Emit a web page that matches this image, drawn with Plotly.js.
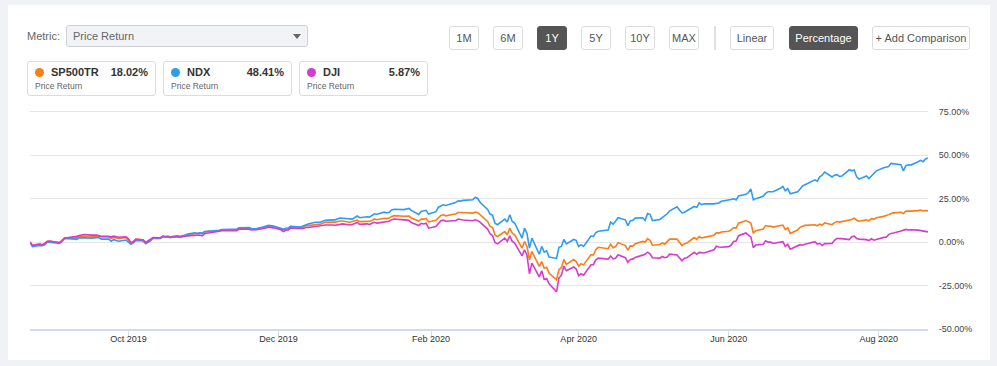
<!DOCTYPE html>
<html>
<head>
<meta charset="utf-8">
<script src="https://cdn.plot.ly/plotly-3.0.1.min.js"></script>
<style>
  html, body { margin: 0; padding: 0; width: 997px; height: 366px; background: #f1f2f6; overflow: hidden; font-family: "Liberation Sans", Arial, sans-serif; }
  #card { position: absolute; left: 8px; top: 5px; width: 982px; height: 355px; background: #ffffff; }
  #chart { position: absolute; left: 0; top: 0; width: 997px; height: 366px; }
  .lbl { position: absolute; font-size: 11px; color: #666; }
  .dd { position: absolute; left: 66px; top: 25px; width: 242px; height: 22px; box-sizing: border-box; background: #f2f3f6; border: 1px solid #cfd1d6; border-radius: 3px; }
  .dd span { position: absolute; left: 6px; top: 4px; font-size: 11px; color: #666; }
  .caret { position: absolute; left: 226px; top: 8px; width: 0; height: 0; border-left: 4px solid transparent; border-right: 4px solid transparent; border-top: 5px solid #666; }
  .btn { position: absolute; top: 26px; height: 24px; box-sizing: border-box; border: 1px solid #dcdcdc; border-radius: 3px; background: #fff; color: #555; font-size: 11px; line-height: 22px; text-align: center; }
  .btn.on { background: #555; border-color: #555; color: #fff; }
  .sep { position: absolute; left: 714px; top: 26px; width: 2px; height: 24px; background: #e0e0e0; }
  .card { position: absolute; top: 61px; width: 129px; height: 35px; box-sizing: border-box; border: 1px solid #dcdcdc; border-radius: 3px; background: #fff; }
  .dot { position: absolute; left: 7px; top: 6px; width: 9px; height: 9px; border-radius: 50%; }
  .nm { position: absolute; left: 23px; top: 4px; font-size: 11px; font-weight: bold; color: #333; }
  .val { position: absolute; right: 7px; top: 4px; font-size: 11px; font-weight: bold; color: #333; }
  .sub { position: absolute; left: 7px; top: 19px; font-size: 8.5px; color: #666; }
</style>
</head>
<body>
<div id="card"></div>
<div id="chart"></div>
<div id="ui"></div>
<script>
// ---------- DATA ----------
var seriesNames = ["SP500TR", "NDX", "DJI"];
var legendValues = ["18.02%", "48.41%", "5.87%"];
var metricLabel = "Price Return";
var rangeButtons = ["1M", "6M", "1Y", "5Y", "10Y", "MAX"];
var scaleButtons = ["Linear", "Percentage"];
var yTickValues = [-50, -25, 0, 25, 50, 75];
var yTickLabels = ["-50.00%", "-25.00%", "0.00%", "25.00%", "50.00%", "75.00%"];

var dates = [
"2019-08-22","2019-08-23","2019-08-26","2019-08-27","2019-08-28","2019-08-29","2019-08-30",
"2019-09-03","2019-09-04","2019-09-05","2019-09-06","2019-09-09","2019-09-10","2019-09-11","2019-09-12","2019-09-13",
"2019-09-16","2019-09-17","2019-09-18","2019-09-19","2019-09-20","2019-09-23","2019-09-24","2019-09-25","2019-09-26","2019-09-27","2019-09-30",
"2019-10-01","2019-10-02","2019-10-03","2019-10-04","2019-10-07","2019-10-08","2019-10-09","2019-10-10","2019-10-11",
"2019-10-14","2019-10-15","2019-10-16","2019-10-17","2019-10-18","2019-10-21","2019-10-22","2019-10-23","2019-10-24","2019-10-25",
"2019-10-28","2019-10-29","2019-10-30","2019-10-31","2019-11-01","2019-11-04","2019-11-05","2019-11-06","2019-11-07","2019-11-08",
"2019-11-11","2019-11-12","2019-11-13","2019-11-14","2019-11-15","2019-11-18","2019-11-19","2019-11-20","2019-11-21","2019-11-22",
"2019-11-25","2019-11-26","2019-11-27","2019-11-29","2019-12-02","2019-12-03","2019-12-04","2019-12-05","2019-12-06",
"2019-12-09","2019-12-10","2019-12-11","2019-12-12","2019-12-13","2019-12-16","2019-12-17","2019-12-18","2019-12-19","2019-12-20",
"2019-12-23","2019-12-24","2019-12-26","2019-12-27","2019-12-30","2019-12-31","2020-01-02","2020-01-03",
"2020-01-06","2020-01-07","2020-01-08","2020-01-09","2020-01-10","2020-01-13","2020-01-14","2020-01-15","2020-01-16","2020-01-17",
"2020-01-21","2020-01-22","2020-01-23","2020-01-24","2020-01-27","2020-01-28","2020-01-29","2020-01-30","2020-01-31",
"2020-02-03","2020-02-04","2020-02-05","2020-02-06","2020-02-07","2020-02-10","2020-02-11","2020-02-12","2020-02-13","2020-02-14",
"2020-02-18","2020-02-19","2020-02-20","2020-02-21","2020-02-24","2020-02-25","2020-02-26","2020-02-27","2020-02-28",
"2020-03-02","2020-03-03","2020-03-04","2020-03-05","2020-03-06","2020-03-09","2020-03-10","2020-03-11","2020-03-12","2020-03-13",
"2020-03-16","2020-03-17","2020-03-18","2020-03-19","2020-03-20","2020-03-23","2020-03-24","2020-03-25","2020-03-26","2020-03-27",
"2020-03-30","2020-03-31","2020-04-01","2020-04-02","2020-04-03","2020-04-06","2020-04-07","2020-04-08","2020-04-09",
"2020-04-13","2020-04-14","2020-04-15","2020-04-16","2020-04-17","2020-04-20","2020-04-21","2020-04-22","2020-04-23","2020-04-24",
"2020-04-27","2020-04-28","2020-04-29","2020-04-30","2020-05-01","2020-05-04","2020-05-05","2020-05-06","2020-05-07","2020-05-08",
"2020-05-11","2020-05-12","2020-05-13","2020-05-14","2020-05-15","2020-05-18","2020-05-19","2020-05-20","2020-05-21","2020-05-22",
"2020-05-26","2020-05-27","2020-05-28","2020-05-29","2020-06-01","2020-06-02","2020-06-03","2020-06-04","2020-06-05",
"2020-06-08","2020-06-09","2020-06-10","2020-06-11","2020-06-12","2020-06-15","2020-06-16","2020-06-17","2020-06-18","2020-06-19",
"2020-06-22","2020-06-23","2020-06-24","2020-06-25","2020-06-26","2020-06-29","2020-06-30","2020-07-01","2020-07-02",
"2020-07-06","2020-07-07","2020-07-08","2020-07-09","2020-07-10","2020-07-13","2020-07-14","2020-07-15","2020-07-16","2020-07-17",
"2020-07-20","2020-07-21","2020-07-22","2020-07-23","2020-07-24","2020-07-27","2020-07-28","2020-07-29","2020-07-30","2020-07-31",
"2020-08-03","2020-08-04","2020-08-05","2020-08-06","2020-08-07","2020-08-10","2020-08-11","2020-08-12","2020-08-13","2020-08-14",
"2020-08-17","2020-08-18","2020-08-19","2020-08-20","2020-08-21"
];

var sp500tr = [
0,-2.0,-1.2,-1.5,-0.9,0.4,0.5,
-0.2,0.9,2.2,2.3,2.3,2.4,3.2,3.5,3.4,
3.1,3.3,3.4,3.4,2.9,2.9,2.1,2.7,2.5,2.0,2.6,
1.3,-0.5,0.3,1.7,1.3,-0.3,0.6,1.3,2.5,
2.4,3.4,3.2,3.5,3.1,3.8,3.4,3.7,3.9,4.3,
4.9,4.8,5.2,4.9,5.9,6.3,6.2,6.3,6.7,7.0,
6.8,7.0,7.1,7.2,8.0,8.1,8.0,7.6,7.4,7.6,
8.4,8.7,9.2,8.8,7.8,7.0,7.7,7.9,8.9,
8.5,8.3,8.6,9.5,9.5,10.3,10.3,10.3,10.8,11.4,
11.5,11.5,12.1,12.1,11.4,11.7,12.7,11.8,
12.2,11.9,12.5,13.3,12.9,13.7,13.5,13.8,14.8,15.2,
14.9,15.0,15.0,13.9,12.1,13.3,13.2,13.6,11.6,
12.5,14.2,15.3,15.7,15.1,16.0,16.2,17.0,16.8,17.0,
16.7,17.3,16.9,15.7,11.9,9.0,8.5,4.2,3.2,
6.1,4.2,8.0,5.2,4.2,-3.5,0.4,-2.5,-10.2,-5.4,
-14.0,-11.2,-15.0,-14.5,-18.0,-21.7,-15.9,-14.6,-10.0,-12.8,
-10.0,-11.2,-13.8,-12.4,-13.1,-7.3,-7.4,-4.2,-3.0,
-3.8,-1.2,-3.2,-2.6,-0.3,-2.0,-4.6,-2.2,-2.3,-1.0,
0.4,-0.1,2.0,1.0,-1.8,-1.4,-0.5,-1.2,0.0,1.7,
1.7,-0.3,-2.0,-0.9,-0.5,2.6,1.5,3.2,2.4,2.7,
3.9,5.4,5.2,5.8,6.2,7.0,8.4,8.1,10.9,
12.4,11.5,11.0,5.3,6.6,7.5,9.5,9.1,9.2,8.6,
9.3,9.8,7.2,8.3,5.0,6.9,8.5,9.0,9.6,
10.0,9.4,10.3,9.8,11.0,10.0,11.2,11.8,11.5,11.8,
12.8,13.0,13.8,12.6,12.0,12.8,12.2,13.5,13.2,14.0,
14.8,15.2,15.8,16.5,16.8,17.2,16.4,17.8,17.7,17.8,
18.1,18.4,17.9,18.2,18.02
];

var ndx = [
0,-2.6,-1.9,-2.0,-1.6,-0.1,0.0,
-0.8,0.4,2.0,2.1,1.7,1.6,2.4,2.6,2.4,
2.3,2.6,2.6,2.6,1.7,1.7,0.5,1.4,1.1,0.5,1.2,
0.1,-1.3,-0.5,0.9,0.6,-1.0,-0.1,0.7,2.2,
2.1,3.2,2.9,3.2,2.5,3.4,2.8,3.1,3.9,4.6,
5.4,4.9,5.3,5.2,6.1,6.5,6.6,6.4,6.8,7.2,
7.0,7.3,7.3,7.4,8.2,8.3,8.3,7.8,7.6,7.7,
8.8,9.0,9.6,9.2,8.0,7.4,8.0,8.1,9.1,
8.7,8.7,9.2,10.0,10.4,11.4,11.4,11.4,12.0,12.5,
12.8,12.8,13.9,13.7,13.0,13.2,15.0,14.0,
14.6,14.4,15.3,16.3,16.0,17.2,16.8,17.1,18.5,18.9,
18.7,19.0,19.4,18.2,15.9,17.6,17.8,18.3,16.1,
17.5,20.1,20.6,21.5,21.1,22.4,22.7,23.8,23.6,24.0,
24.4,25.8,25.1,22.8,18.8,16.1,15.5,10.9,10.0,
13.2,11.5,15.7,11.9,11.0,2.3,8.0,5.0,-3.5,2.3,
-7.0,-2.5,-5.8,-5.0,-8.6,-9.4,-3.0,-2.5,1.5,-1.0,
1.5,1.0,-2.5,-1.5,-2.5,3.5,3.3,5.5,6.2,
7.0,11.5,10.3,12.0,14.0,12.8,9.4,12.2,12.5,13.8,
14.0,12.4,16.5,16.0,12.4,13.0,14.0,15.0,16.3,18.0,
20.3,18.5,16.8,17.2,18.0,20.5,20.0,22.5,21.5,22.0,
22.0,22.3,22.5,23.5,24.0,24.5,25.0,24.2,26.5,
27.5,28.5,30.5,24.3,25.0,26.3,28.0,29.0,29.2,29.0,
31.0,32.0,29.5,30.8,27.8,29.0,30.5,32.3,33.0,
35.8,35.0,37.5,38.5,40.3,37.5,38.5,38.8,37.8,38.0,
41.6,41.0,41.5,37.5,36.2,38.0,36.5,38.0,39.5,41.0,
42.8,43.0,43.5,45.3,45.0,44.5,41.0,44.0,44.5,44.3,
46.2,47.0,46.2,47.8,48.41
];

var dji = [
0,-1.9,-1.1,-1.6,-0.8,0.3,0.6,
-0.4,0.9,2.3,2.5,2.9,3.3,3.8,4.3,4.4,
4.0,4.1,4.1,3.8,3.4,3.4,2.9,3.4,3.2,2.8,3.1,
1.9,-0.3,0.1,1.6,1.2,-0.2,0.8,1.4,2.6,
2.5,3.3,3.0,3.0,2.8,3.2,2.9,3.3,3.2,3.6,
3.9,3.9,4.1,3.6,4.9,5.5,5.8,5.8,6.5,6.5,
6.5,6.5,6.7,6.6,7.5,7.5,7.4,7.0,6.9,7.1,
7.8,8.2,8.6,8.2,7.1,6.1,6.9,7.0,8.2,
7.8,7.6,7.8,8.4,8.4,9.0,9.2,9.0,9.5,9.8,
9.8,9.7,10.2,10.5,9.8,10.1,11.3,10.2,
10.5,10.1,10.8,11.4,10.9,11.4,11.6,12.0,12.9,13.3,
12.8,12.6,12.5,11.3,9.5,10.8,10.4,10.9,8.0,
8.9,10.5,12.3,12.6,12.0,12.3,12.3,13.3,12.8,12.7,
12.3,12.8,12.3,11.3,7.5,4.8,3.8,-0.2,-1.0,
2.3,0.4,3.6,0.4,-0.6,-7.9,-4.4,-7.5,-18.2,-12.1,
-20.0,-16.5,-21.5,-21.0,-24.0,-28.6,-20.7,-19.0,-13.9,-16.5,
-14.3,-15.5,-19.3,-18.2,-19.0,-13.0,-13.0,-10.2,-9.2,
-9.8,-8.0,-9.7,-9.3,-7.3,-9.0,-11.6,-10.0,-9.8,-8.8,
-7.5,-7.0,-5.8,-6.8,-9.0,-9.2,-8.3,-9.0,-8.6,-6.9,
-7.4,-9.1,-10.8,-9.3,-9.0,-5.9,-7.0,-5.9,-6.3,-6.3,
-4.4,-2.4,-2.8,-3.0,-2.6,-1.7,0.3,0.6,3.7,
5.3,4.0,3.0,-3.2,-1.7,-1.3,0.7,0.0,0.0,-0.8,
-0.2,0.2,-2.4,-1.3,-4.1,-2.3,-1.5,-1.8,-1.3,
0.2,-1.2,-0.7,-2.0,-0.9,-0.8,1.0,2.2,2.0,2.0,
1.4,3.1,3.4,2.1,1.7,1.4,0.8,1.9,1.1,1.6,
2.7,2.8,4.3,5.0,5.2,6.4,6.8,7.3,7.0,7.1,
6.9,6.7,6.4,6.2,5.87
];

var seriesColors = ["#fb7d17", "#2e9bf7", "#d43bce"];

// ---------- CHART ----------
var seriesData = [sp500tr, ndx, dji];
var traces = seriesData.map(function (vals, i) {
  return {
    type: "scatter", mode: "lines", name: seriesNames[i],
    x: dates, y: vals,
    line: { color: seriesColors[i], width: 1.6 },
    hoverinfo: "skip"
  };
});

var layout = {
  width: 997, height: 366,
  margin: { l: 30, r: 69, t: 110.3, b: 37, pad: 0 },
  paper_bgcolor: "rgba(0,0,0,0)",
  plot_bgcolor: "rgba(0,0,0,0)",
  showlegend: false,
  font: { family: "Liberation Sans, Arial, sans-serif", size: 9, color: "#333" },
  xaxis: {
    type: "date",
    range: ["2019-08-22", "2020-08-21"],
    tick0: "2019-10-01", dtick: "M2", tickformat: "%b %Y",
    showgrid: false, zeroline: false,
    showline: true, linecolor: "#d5dbe5", linewidth: 2,
    ticks: "outside", ticklen: 6, tickcolor: "#d5dbe5", tickwidth: 1,
    ticklabelstandoff: -6,
    tickfont: { size: 9, color: "#333" }
  },
  yaxis: {
    side: "right",
    range: [-50, 76], tickmode: "array",
    tickvals: yTickValues, ticktext: yTickLabels,
    showgrid: true, gridcolor: "#e6e6e6", gridwidth: 1,
    zeroline: false, showline: false,
    ticks: "outside", ticklen: 8, tickcolor: "rgba(0,0,0,0)",
    tickfont: { size: 9, color: "#444" }
  }
};

Plotly.newPlot("chart", traces, layout, { staticPlot: true, displayModeBar: false });

// ---------- CONTROLS (HTML) ----------
var ui = document.getElementById("ui");
var html = '<div class="lbl" style="left:27px;top:30px;">Metric:</div>';
html += '<div class="dd"><span>' + metricLabel + '</span><div class="caret"></div></div>';
var rangeLefts = [449, 493, 537, 581, 625, 669];
var rangeWidths = [30, 30, 30, 30, 30, 30];
rangeButtons.forEach(function (b, i) {
  html += '<div class="btn' + (b === "1Y" ? " on" : "") + '" style="left:' + rangeLefts[i] + 'px;width:' + rangeWidths[i] + 'px;">' + b + '</div>';
});
html += '<div class="sep"></div>';
var scaleLefts = [730, 789];
var scaleWidths = [44, 69];
scaleButtons.forEach(function (b, i) {
  html += '<div class="btn' + (b === "Percentage" ? " on" : "") + '" style="left:' + scaleLefts[i] + 'px;width:' + scaleWidths[i] + 'px;">' + b + '</div>';
});
html += '<div class="btn" style="left:872px;width:98px;">+ Add Comparison</div>';
var cardLefts = [27, 163, 299];
seriesNames.forEach(function (n, i) {
  html += '<div class="card" style="left:' + cardLefts[i] + 'px;">' +
    '<div class="dot" style="background:' + seriesColors[i] + ';"></div>' +
    '<div class="nm">' + n + '</div>' +
    '<div class="val">' + legendValues[i] + '</div>' +
    '<div class="sub">' + metricLabel + '</div></div>';
});
ui.innerHTML = html;
</script>
</body>
</html>
